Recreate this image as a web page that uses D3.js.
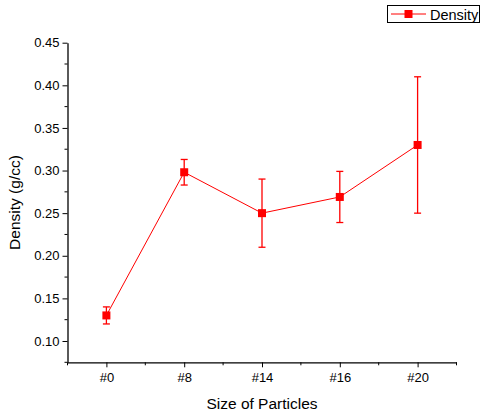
<!DOCTYPE html>
<html>
<head>
<meta charset="utf-8">
<script src="https://cdn.jsdelivr.net/npm/d3@7"></script>
<style>
  html, body { margin: 0; padding: 0; background: #fff; }
  svg { display: block; font-family: "Liberation Sans", Arial, sans-serif; }
</style>
</head>
<body>
<svg id="chart" width="484" height="415"></svg>
<script>
// Particle size categories and measured density (mean ± error)
const categories = ["#0", "#8", "#14", "#16", "#20"];
const density = [0.130, 0.298, 0.250, 0.269, 0.330];
const densityErr = [0.010, 0.015, 0.040, 0.030, 0.080];
const yTicks = [0.10, 0.15, 0.20, 0.25, 0.30, 0.35, 0.40, 0.45];
const yMinorTicks = [0.075, 0.125, 0.175, 0.225, 0.275, 0.325, 0.375, 0.425];

const svg = d3.select("#chart");
const plot = { left: 67.5, right: 456.5, top: 42.7, bottom: 362.3 };
const red = "#ff0000";

const x = d3.scaleLinear().domain([-0.5, categories.length - 0.5]).range([plot.left, plot.right]);
const y = d3.scaleLinear().domain([0.075, 0.45]).range([plot.bottom, plot.top]);

// Y axis: major ticks with labels, minor ticks in between
const yAxis = d3.axisLeft(y).tickValues(yTicks).tickFormat(d3.format(".2f")).tickSize(5).tickSizeOuter(0).tickPadding(3);
const gy = svg.append("g").attr("transform", `translate(${plot.left},0)`).call(yAxis);
gy.selectAll(".tick text").attr("font-size", 13).attr("fill", "#000");
gy.append("g").selectAll("line").data(yMinorTicks).join("line")
  .attr("x1", -3).attr("x2", 0).attr("y1", d => y(d)).attr("y2", d => y(d))
  .attr("stroke", "#000");

// X axis: category ticks and half-step minor ticks
const xAxis = d3.axisBottom(x).tickValues(d3.range(categories.length))
  .tickFormat(i => categories[i]).tickSize(5).tickSizeOuter(0).tickPadding(5);
const gx = svg.append("g").attr("transform", `translate(0,${plot.bottom})`).call(xAxis);
gx.selectAll(".tick text").attr("font-size", 13).attr("fill", "#000");
gx.append("g").selectAll("line").data(d3.range(-0.5, categories.length, 1)).join("line")
  .attr("x1", d => x(d)).attr("x2", d => x(d)).attr("y1", 0).attr("y2", 3)
  .attr("stroke", "#000");
svg.selectAll(".domain").attr("stroke", "#000").attr("stroke-width", 1.3);

// Axis titles
svg.append("text").attr("x", (plot.left + plot.right) / 2).attr("y", 409)
  .attr("text-anchor", "middle").attr("font-size", 15.5).text("Size of Particles");
svg.append("text").attr("transform", `translate(20,${(plot.top + plot.bottom) / 2}) rotate(-90)`)
  .attr("text-anchor", "middle").attr("font-size", 15.5).text("Density (g/cc)");

const pts = categories.map((c, i) => ({ i, v: density[i], e: densityErr[i] }));

// Connecting line
svg.append("path").datum(pts)
  .attr("d", d3.line().x(d => x(d.i)).y(d => y(d.v)))
  .attr("fill", "none").attr("stroke", red).attr("stroke-width", 1);

// Error bars
const eb = svg.append("g").attr("stroke", red).attr("stroke-width", 1.3);
pts.forEach(d => {
  const cx = x(d.i);
  eb.append("line").attr("x1", cx).attr("x2", cx).attr("y1", y(d.v + d.e)).attr("y2", y(d.v - d.e));
  eb.append("line").attr("x1", cx - 3.5).attr("x2", cx + 3.5).attr("y1", y(d.v + d.e)).attr("y2", y(d.v + d.e));
  eb.append("line").attr("x1", cx - 3.5).attr("x2", cx + 3.5).attr("y1", y(d.v - d.e)).attr("y2", y(d.v - d.e));
});

// Square markers
svg.append("g").selectAll("rect").data(pts).join("rect")
  .attr("x", d => x(d.i) - 4).attr("y", d => y(d.v) - 4)
  .attr("width", 8).attr("height", 8).attr("fill", red);

// Legend
const lg = svg.append("g");
lg.append("rect").attr("x", 387.5).attr("y", 5.5).attr("width", 92).attr("height", 17)
  .attr("fill", "#fff").attr("stroke", "#000").attr("stroke-width", 1);
lg.append("line").attr("x1", 391).attr("x2", 426).attr("y1", 14).attr("y2", 14)
  .attr("stroke", red).attr("stroke-width", 1);
lg.append("rect").attr("x", 404.5).attr("y", 10).attr("width", 8).attr("height", 8).attr("fill", red);
lg.append("text").attr("x", 430).attr("y", 19.5).attr("font-size", 14.5).text("Density");
</script>
</body>
</html>
